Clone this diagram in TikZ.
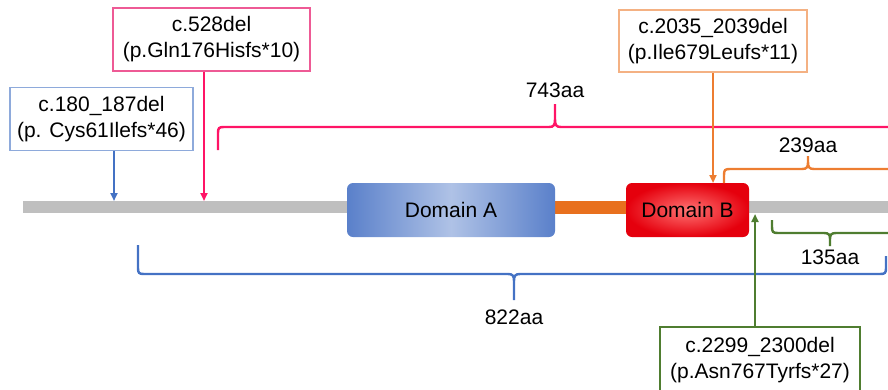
\documentclass[tikz,border=0pt]{standalone}
\usepackage{fontspec}
\setmainfont{Liberation Sans}
\usetikzlibrary{arrows.meta}
\definecolor{barGray}{HTML}{BFBFBF}
\definecolor{linkOrange}{HTML}{E8701E}
\definecolor{domAedge}{HTML}{5A80CA}
\definecolor{domAmid}{HTML}{AFC2E6}
\definecolor{domBout}{HTML}{E5000D}
\definecolor{domBin}{HTML}{FF7373}
\definecolor{blueBoxC}{HTML}{8EAADB}
\definecolor{blueLine}{HTML}{4472C4}
\definecolor{pinkBoxC}{HTML}{EE5A95}
\definecolor{pinkLine}{HTML}{FF1466}
\definecolor{orangeBoxC}{HTML}{F4B183}
\definecolor{orangeLine}{HTML}{ED7D31}
\definecolor{greenC}{HTML}{4F7D30}
\begin{document}
\begin{tikzpicture}[x=1pt,y=-1pt,
  mutbox/.style={draw, line width=1.8pt, fill=white, align=center, inner sep=0pt,
    font=\fontsize{21}{26}\selectfont},
  lbl/.style={font=\fontsize{21}{25}\selectfont, inner sep=0pt},
  mutarrow/.style={line width=2pt, -{Triangle[length=8pt,width=7pt]}},
  bracepath/.style={line width=2.4pt}]
\useasboundingbox (0,0) rectangle (888,389);
% backbone
\node[fill=barGray, minimum width=870pt, minimum height=12pt, inner sep=0pt, anchor=west] (bar) at (23,207) {};
\node[fill=linkOrange, minimum width=74pt, minimum height=13pt, inner sep=0pt] (linker) at (590,207.5) {};
\node[lbl, rounded corners=6pt, left color=domAedge, right color=domAedge, middle color=domAmid,
  minimum width=208pt, minimum height=54pt] (domA) at (451,210) {Domain A};
\node[lbl, rounded corners=6pt, inner color=domBin, outer color=domBout,
  minimum width=123pt, minimum height=54pt] (domB) at (687.5,210) {Domain B};
% braces
\draw[bracepath, pinkLine] (218,150) -- (218,133) .. controls (218,128) and (219,127) .. (224,127)
  -- (549,127) .. controls (554,127) and (555,125) .. (555,119) -- (555,104)
  (555,119) .. controls (555,125) and (556,127) .. (561,127) -- (892,127);
\node[lbl] (l743) at (555,90) {743aa};
\draw[bracepath, orangeLine] (724,183) -- (724,175) .. controls (724,170) and (725,169) .. (730,169)
  -- (802,169) .. controls (807,169) and (808,167) .. (808,162) -- (808,156)
  (808,162) .. controls (808,167) and (809,169) .. (814,169) -- (892,169);
\node[lbl] (l239) at (808,145) {239aa};
\draw[bracepath, greenC] (772,220) -- (772,227) .. controls (772,232) and (773,233) .. (778,233)
  -- (824,233) .. controls (829,233) and (830,235) .. (830,239) -- (830,246)
  (830,239) .. controls (830,235) and (831,233) .. (836,233) -- (892,233);
\node[lbl] (l135) at (830,257) {135aa};
\draw[bracepath, blueLine] (138,245) -- (138,268) .. controls (138,273) and (139,274) .. (144,274)
  -- (508,274) .. controls (513,274) and (514,276) .. (514,281) -- (514,300)
  (514,281) .. controls (514,276) and (515,274) .. (520,274) -- (880,274)
  .. controls (885,274) and (886,273) .. (886,268) -- (886,256);
\node[lbl] (l822) at (514,317) {822aa};
% mutation boxes
\node[mutbox, draw=blueBoxC, minimum width=183pt, minimum height=63pt] (blueBox) at (101.5,119)
  {c.180\_187del\\(p. Cys61Ilefs*46)};
\node[mutbox, draw=pinkBoxC, minimum width=197pt, minimum height=63pt] (pinkBox) at (211.5,39.5)
  {c.528del\\(p.Gln176Hisfs*10)};
\node[mutbox, draw=orangeBoxC, minimum width=188pt, minimum height=62pt] (orangeBox) at (713,41)
  {c.2035\_2039del\\(p.Ile679Leufs*11)};
\node[mutbox, draw=greenC, minimum width=200pt, minimum height=66pt] (greenBox) at (760,360)
  {c.2299\_2300del\\(p.Asn767Tyrfs*27)};
% mutation sites
\coordinate (mA) at (114,201);
\coordinate (mB) at (204,201);
\coordinate (mC) at (713,183);
\coordinate (mD) at (755,214);
\draw[mutarrow, blueLine] (blueBox.south -| mA) -- (mA);
\draw[mutarrow, pinkLine] (pinkBox.south -| mB) -- (mB);
\draw[mutarrow, orangeLine] (orangeBox.south -| mC) -- (mC);
\draw[mutarrow, greenC] (greenBox.north -| mD) -- (mD);
\end{tikzpicture}
\end{document}
